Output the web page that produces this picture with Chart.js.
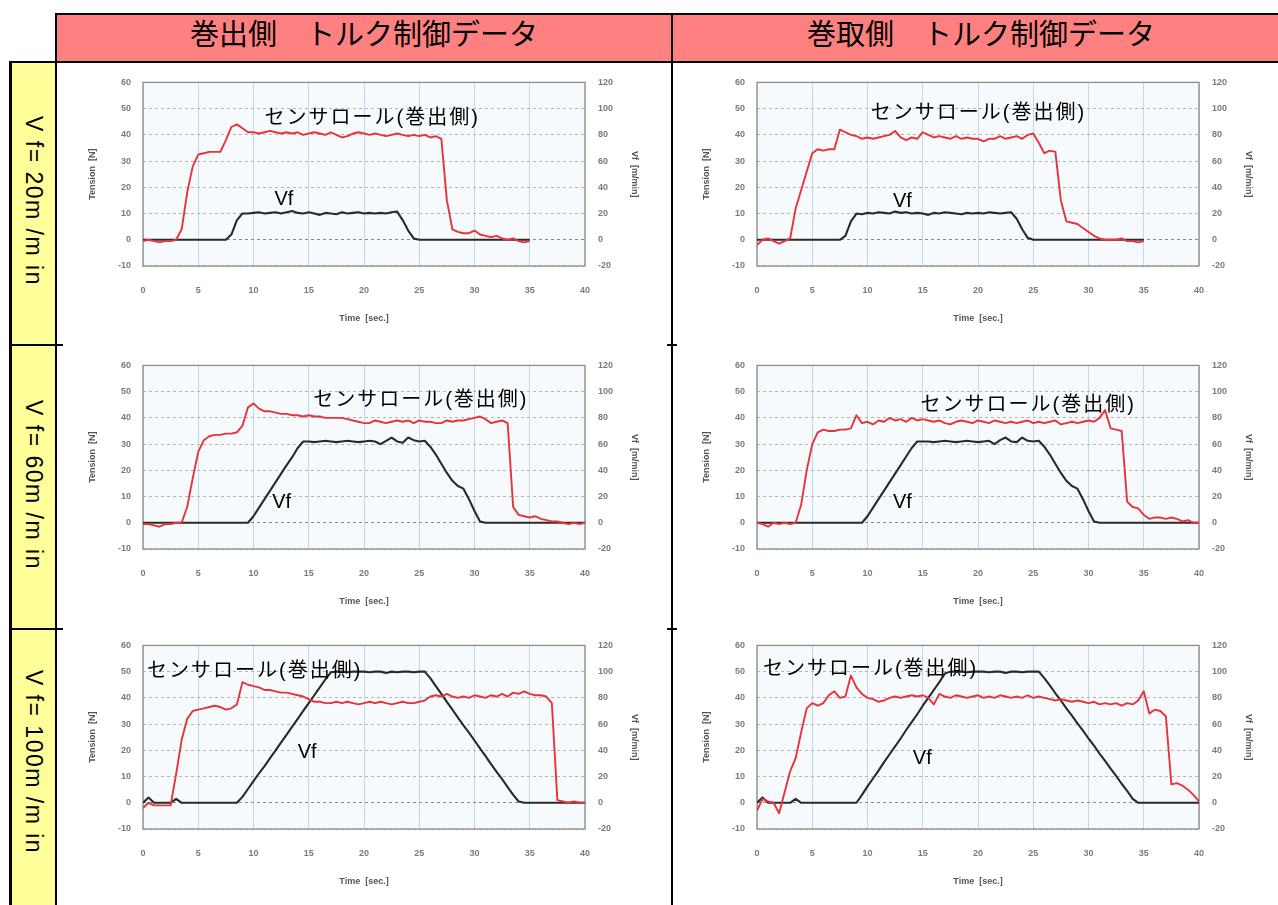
<!DOCTYPE html>
<html>
<head>
<meta charset="utf-8">
<script src="https://cdn.jsdelivr.net/npm/chart.js@4.4.1/dist/chart.umd.min.js"></script>
<style>
  html, body { margin: 0; padding: 0; background: #fff; }
  #page { position: relative; width: 1278px; height: 905px; overflow: hidden; background: #fff; }
  .blk { position: absolute; background: #000; }
  .head { position: absolute; top: 32px; transform: translate(-50%, -50%); white-space: nowrap;
          font: 29px "Noto Sans CJK JP", sans-serif; color: #000; line-height: 1; }
  .rowlab { position: absolute; left: 33px; transform: translate(-50%, -50%) rotate(90deg); white-space: nowrap;
            font: 23px "Liberation Sans", sans-serif; letter-spacing: 1.5px; color: #000; line-height: 1; }
  .note { position: absolute; transform: translateY(-50%); white-space: nowrap; color: #000; line-height: 1;
          font: 20px "Liberation Sans", "Noto Sans CJK JP", sans-serif; }
  canvas.panel { position: absolute; filter: blur(0.7px); }
</style>
</head>
<body>
<div id="page">
  <!-- header cells -->
  <div style="position:absolute;left:55px;top:13px;width:1230px;height:50px;background:#ff8080;"></div>
  <!-- speed column -->
  <div style="position:absolute;left:10px;top:62px;width:46px;height:850px;background:#ffff99;"></div>
</div>

<script>
// ---- time bases (sec.) ----
const TIME_35 = [
  0, 0.5, 1, 1.5, 2, 2.5, 3, 3.5, 4, 4.5,
  5, 5.5, 6, 6.5, 7, 7.5, 8, 8.5, 9, 9.5,
  10, 10.5, 11, 11.5, 12, 12.5, 13, 13.5, 14, 14.5,
  15, 15.5, 16, 16.5, 17, 17.5, 18, 18.5, 19, 19.5,
  20, 20.5, 21, 21.5, 22, 22.5, 23, 23.5, 24, 24.5,
  25, 25.5, 26, 26.5, 27, 27.5, 28, 28.5, 29, 29.5,
  30, 30.5, 31, 31.5, 32, 32.5, 33, 33.5, 34, 34.5,
  35
];
const TIME_40 = [
  0, 0.5, 1, 1.5, 2, 2.5, 3, 3.5, 4, 4.5,
  5, 5.5, 6, 6.5, 7, 7.5, 8, 8.5, 9, 9.5,
  10, 10.5, 11, 11.5, 12, 12.5, 13, 13.5, 14, 14.5,
  15, 15.5, 16, 16.5, 17, 17.5, 18, 18.5, 19, 19.5,
  20, 20.5, 21, 21.5, 22, 22.5, 23, 23.5, 24, 24.5,
  25, 25.5, 26, 26.5, 27, 27.5, 28, 28.5, 29, 29.5,
  30, 30.5, 31, 31.5, 32, 32.5, 33, 33.5, 34, 34.5,
  35, 35.5, 36, 36.5, 37, 37.5, 38, 38.5, 39, 39.5,
  40
];

// ---- axis ticks ----
const TIME_TICKS = [0, 5, 10, 15, 20, 25, 30, 35, 40];
const TENSION_TICKS = [-10, 0, 10, 20, 30, 40, 50, 60];
const VF_TICKS = [-20, 0, 20, 40, 60, 80, 100, 120];

// ---- sensor roll tension [N] and line speed Vf [m/min] ----
// unwind side, Vf = 20 m/min
const TENSION_UNW_20 = [
  -0.5, 0, -0.5, -1, -0.5, -0.5, 0, 4, 18, 28,
  32.5, 33, 33.5, 33.5, 33.5, 38, 43, 44, 42.5, 41,
  41, 40.5, 41, 41.5, 41, 40.5, 41, 40.5, 41, 40,
  40.5, 41, 40.5, 40, 41, 40, 39, 39.5, 40.5, 41,
  40.5, 40, 40.5, 40, 39.5, 40, 40.5, 40, 39.5, 40,
  39.5, 40, 39, 39.5, 38.5, 15, 4, 3, 2.5, 2.5,
  3.5, 2, 1.5, 1, 1.5, 0.5, 0, 0.5, -0.5, -1,
  -0.5
];
const VF_UNW_20 = [
  0, 0, 0, 0, 0, 0, 0, 0, 0, 0,
  0, 0, 0, 0, 0, 0, 4, 15, 20, 20,
  20.5, 21, 20, 20.5, 21, 20, 21, 22, 20.5, 20,
  21, 20, 19, 20.5, 20, 19.5, 21, 20, 20.5, 21,
  20, 20.5, 20, 20.5, 20, 21, 21.5, 15, 7, 1,
  0, 0, 0, 0, 0, 0, 0, 0, 0, 0,
  0, 0, 0, 0, 0, 0, 0, 0, 0, 0,
  0
];
// rewind side, Vf = 20 m/min
const TENSION_REW_20 = [
  -2, 0, 0.5, -0.5, -1.5, -0.5, 0.5, 12, 19, 26,
  33, 34.5, 34, 34.5, 34.5, 42, 41, 40, 39.5, 38.5,
  39, 38.5, 39, 39.5, 40, 41.5, 39, 38, 39, 38.5,
  41, 40, 39, 39.5, 39, 38.5, 39.5, 38.5, 39, 38.5,
  38.5, 37.5, 38.5, 38.5, 39.5, 38.5, 39, 39.5, 38.5, 40,
  40.5, 37, 33, 34, 33.5, 15, 7, 6.5, 6, 4.5,
  3, 1.5, 0.5, 0, 0, 0, 0.5, -0.5, -0.5, -1,
  -0.5
];
const VF_REW_20 = [
  0, 0, 0, 0, 0, 0, 0, 0, 0, 0,
  0, 0, 0, 0, 0, 0, 3, 14, 20, 19.5,
  20.5, 20, 21, 20.5, 20, 21.5, 20.5, 21, 20, 20.5,
  20, 19, 20.5, 20, 21, 20.5, 20, 19.5, 20.5, 20,
  20.5, 20, 21, 20.5, 20, 20.5, 21, 16, 8, 1.5,
  0, 0, 0, 0, 0, 0, 0, 0, 0, 0,
  0, 0, 0, 0, 0, 0, 0, 0, 0, 0,
  0
];
// unwind side, Vf = 60 m/min
const TENSION_UNW_60 = [
  -0.5, -0.5, -1, -1.5, -0.5, -0.5, 0, 0, 6, 17,
  27, 31.5, 33, 33.5, 33.5, 34, 34, 34.5, 37, 44,
  45.5, 43.5, 42.5, 42.5, 42, 41.5, 41.5, 41, 41, 40.5,
  41, 40.5, 40.5, 40, 40, 40, 40, 39.5, 39, 38.5,
  38, 38, 39, 38.5, 38, 38.5, 39, 38.5, 39, 38,
  39, 38.5, 38.5, 38, 38, 39, 38.5, 39, 39, 39.5,
  40, 40.5, 39.5, 38, 38.5, 39, 38, 6, 3, 2.5,
  2, 2.5, 1.5, 1, 0.5, 0.5, 0, -0.5, 0, -0.5,
  0
];
const VF_UNW_60 = [
  0, 0, 0, 0, 0, 0, 0, 0, 0, 0,
  0, 0, 0, 0, 0, 0, 0, 0, 0, 0,
  5, 11.5, 18, 24.5, 31, 37.5, 44, 50, 57, 62,
  62, 61.5, 62, 62.5, 62, 61.5, 62, 62.5, 62, 61.5,
  62, 62.5, 62, 60, 62.5, 65, 62, 61, 65, 63,
  62, 62.5, 58, 52, 45, 38, 32, 28, 26, 18,
  9, 1, 0, 0, 0, 0, 0, 0, 0, 0,
  0, 0, 0, 0, 0, 0, 0, 0, 0, 0,
  0
];
// rewind side, Vf = 60 m/min
const TENSION_REW_60 = [
  0, -0.5, -1.5, 0, -0.5, 0, -0.5, 0, 7, 20,
  30, 34.5, 35.5, 35, 35, 35.5, 35.5, 36, 41, 38,
  38.5, 37.5, 39, 38.5, 40, 39, 39.5, 38.5, 40, 39,
  39.5, 39, 38.5, 39, 38, 37.5, 38.5, 39, 38.5, 38,
  39, 38.5, 38, 39, 38.5, 38, 38.5, 38, 38.5, 39,
  38, 38.5, 38, 38.5, 39, 37.5, 38, 38.5, 38, 38.5,
  39, 38.5, 40, 43, 36, 35.5, 35, 8, 6, 5.5,
  3, 1.5, 2, 2, 1.5, 2, 1.5, 0.5, 1, 0,
  0
];
const VF_REW_60 = [
  0, 0, 0, 0, 0, 0, 0, 0, 0, 0,
  0, 0, 0, 0, 0, 0, 0, 0, 0, 0,
  5, 11.5, 18, 24.5, 31, 37.5, 44, 50.5, 57, 62,
  62, 62, 61.5, 62, 62.5, 62, 61.5, 62, 62.5, 62,
  61.5, 62, 62.5, 60, 63, 65, 62, 61.5, 65, 62.5,
  62, 62.5, 58, 52, 45, 38, 32, 28, 26, 18,
  9, 1, 0, 0, 0, 0, 0, 0, 0, 0,
  0, 0, 0, 0, 0, 0, 0, 0, 0, 0,
  0
];
// unwind side, Vf = 100 m/min
const TENSION_UNW_100 = [
  -2, 0, -1, -1, -1, -1, 11, 24, 32, 35,
  35.5, 36, 36.5, 37, 36.5, 35.5, 36, 37.5, 46, 45,
  44.5, 44, 43, 43, 42.5, 42, 42, 41.5, 41, 40.5,
  39.5, 38.5, 38.5, 38, 38, 38.5, 38, 38.5, 38, 37.5,
  38, 38.5, 38, 38.5, 38, 37.5, 38, 38.5, 38, 38,
  38.5, 39, 40.5, 41, 40.5, 41.5, 40.5, 40, 40.5, 40,
  41, 40.5, 40, 41, 40.5, 41.5, 40.5, 42, 41.5, 42.5,
  41.5, 41, 41, 40.5, 38, 1, 0.5, 0, 0.5, 0,
  0
];
const VF_UNW_100 = [
  0, 4, 0, 0, 0, 0, 3, 0, 0, 0,
  0, 0, 0, 0, 0, 0, 0, 0, 4.5, 10.5,
  16.5, 22.5, 28, 34, 40, 46, 52, 58, 64, 70,
  76, 82, 88, 94, 99.5, 100, 100, 99.5, 100, 100,
  100, 99.5, 100, 100, 99, 100, 99.5, 100, 100, 99.5,
  100, 100, 95, 89, 83, 77, 71, 65, 59, 53.5,
  47.5, 41.5, 35.5, 29.5, 23.5, 18, 12, 6, 1, 0,
  0, 0, 0, 0, 0, 0, 0, 0, 0, 0,
  0
];
// rewind side, Vf = 100 m/min
const TENSION_REW_100 = [
  -3, 1.5, 0.5, 0, -4, 4, 12, 17, 27, 36,
  38, 37, 38, 41, 42.5, 40, 40.5, 48.5, 44, 41.5,
  40, 39.5, 38.5, 39, 40, 40.5, 40, 40.5, 41, 40.5,
  41, 40, 37.5, 41.5, 40.5, 40, 41, 40.5, 40, 40.5,
  41, 40, 40.5, 40, 41, 40.5, 40, 40.5, 40, 41,
  40, 40.5, 40, 39.5, 39, 39.5, 39, 38.5, 39, 38.5,
  38, 38.5, 37.5, 38, 37.5, 38, 37, 38, 37.5, 39,
  42.5, 34, 35.5, 35, 33, 7, 7.5, 6.5, 5, 3,
  0.5
];
const VF_REW_100 = [
  0, 4, 0, 0, 0, 0, 0, 3, 0, 0,
  0, 0, 0, 0, 0, 0, 0, 0, 0, 6,
  12.5, 18.5, 24.5, 31, 37, 43, 49, 55.5, 61.5, 67.5,
  74, 80, 86, 92, 98.5, 100, 100, 100, 99.5, 100,
  100, 100, 99.5, 100, 100, 99, 100, 100, 99.5, 100,
  100, 100, 95, 89.5, 83.5, 78, 72, 66.5, 60.5, 55,
  49, 43.5, 37.5, 32, 26, 20.5, 14.5, 9, 3, 0,
  0, 0, 0, 0, 0, 0, 0, 0, 0, 0,
  0
];

const COLUMN_TITLES = ['巻出側\u3000トルク制御データ', '巻取側\u3000トルク制御データ'];
const ROW_TITLES = ['V f= 20m /m in', 'V f= 60m /m in', 'V f= 100m /m in'];
const ROLL_LABEL = 'センサロール(巻出側)';

// panel placement (canvas top-left), label anchors in data units
const COL_LEFT = [60, 674];
const ROW_TOP = [64, 347, 627];
const PANELS = [
  { col: 0, row: 0, time: TIME_35, tension: TENSION_UNW_20, vf: VF_UNW_20,
    notes: [{ text: ROLL_LABEL, x: 11.0, y: 47.4 }, { text: 'Vf', x: 11.9, y: 16 }] },
  { col: 1, row: 0, time: TIME_35, tension: TENSION_REW_20, vf: VF_REW_20,
    notes: [{ text: ROLL_LABEL, x: 10.3, y: 49.3 }, { text: 'Vf', x: 12.3, y: 15.3 }] },
  { col: 0, row: 1, time: TIME_40, tension: TENSION_UNW_60, vf: VF_UNW_60,
    notes: [{ text: ROLL_LABEL, x: 15.4, y: 47.8 }, { text: 'Vf', x: 11.7, y: 8.4 }] },
  { col: 1, row: 1, time: TIME_40, tension: TENSION_REW_60, vf: VF_REW_60,
    notes: [{ text: ROLL_LABEL, x: 14.8, y: 46.2 }, { text: 'Vf', x: 12.3, y: 8.4 }] },
  { col: 0, row: 2, time: TIME_40, tension: TENSION_UNW_100, vf: VF_UNW_100,
    notes: [{ text: ROLL_LABEL, x: 0.36, y: 51.2 }, { text: 'Vf', x: 14.0, y: 19.9 }] },
  { col: 1, row: 2, time: TIME_40, tension: TENSION_REW_100, vf: VF_REW_100,
    notes: [{ text: ROLL_LABEL, x: 0.54, y: 52.3 }, { text: 'Vf', x: 14.1, y: 17.6 }] }
];

const page = document.getElementById('page');

// plot-area background and frame
const plotFrame = {
  id: 'plotFrame',
  beforeDraw(chart) {
    const a = chart.chartArea, ctx = chart.ctx;
    ctx.save();
    ctx.fillStyle = '#f7fafc';
    ctx.fillRect(a.left, a.top, a.right - a.left, a.bottom - a.top);
    ctx.restore();
  },
  beforeDatasetsDraw(chart) {
    const a = chart.chartArea, ctx = chart.ctx;
    ctx.save();
    ctx.strokeStyle = '#8c8c8c';
    ctx.lineWidth = 1.3;
    ctx.strokeRect(a.left, a.top, a.right - a.left, a.bottom - a.top);
    ctx.restore();
  }
};

const tickFont = { family: 'Liberation Sans', size: 9, weight: 'bold' };
const titleFont = { family: 'Liberation Sans', size: 9, weight: 'bold' };
const tickColor = '#7a7a7a';

function pairs(time, values) {
  return values.map((v, i) => ({ x: time[i], y: v }));
}

function buildPanel(p) {
  const left = COL_LEFT[p.col], top = ROW_TOP[p.row];
  const cv = document.createElement('canvas');
  cv.className = 'panel';
  cv.width = 610; cv.height = 280;
  cv.style.left = left + 'px';
  cv.style.top = top + 'px';
  cv.style.width = '610px';
  cv.style.height = '280px';
  page.appendChild(cv);

  const chart = new Chart(cv, {
    type: 'line',
    data: {
      datasets: [
        { label: 'Tension', data: pairs(p.time, p.tension), yAxisID: 'y',
          borderColor: '#e8333a', borderWidth: 1.9 },
        { label: 'Vf', data: pairs(p.time, p.vf), yAxisID: 'y1',
          borderColor: '#2a2a2a', borderWidth: 2.1 }
      ]
    },
    options: {
      responsive: false,
      animation: false,
      devicePixelRatio: 1,
      layout: { padding: { top: 18, left: 0, right: 0, bottom: 0 } },
      elements: { point: { radius: 0 }, line: { tension: 0, borderJoinStyle: 'round' } },
      plugins: { legend: { display: false }, tooltip: { enabled: false } },
      scales: {
        x: {
          type: 'linear', min: 0, max: 40,
          afterFit(s) { s.height = 78; },
          afterBuildTicks(s) { s.ticks = TIME_TICKS.map(v => ({ value: v })); },
          ticks: { padding: 19, color: tickColor, font: tickFont, maxRotation: 0, autoSkip: false },
          grid: { drawTicks: false, color: 'rgba(150,190,215,0.55)', lineWidth: 1 },
          border: { display: false },
          title: { display: true, text: 'Time  [sec.]', color: '#555', font: titleFont,
                   padding: { top: 0, bottom: 20 } }
        },
        y: {
          type: 'linear', position: 'left', min: -10, max: 60,
          afterFit(s) { s.width = 83; },
          afterBuildTicks(s) { s.ticks = TENSION_TICKS.map(v => ({ value: v })); },
          ticks: { padding: 12, color: tickColor, font: tickFont },
          grid: { drawTicks: false,
                  color: c => (c.tick && c.tick.value === 0) ? '#8a8a8a' : '#b4b4b4',
                  lineWidth: 1 },
          border: { display: false, dash: [3, 3] },
          title: { display: true, text: 'Tension  [N]', color: '#555', font: titleFont,
                   padding: { top: 27, bottom: 0 } }
        },
        y1: {
          type: 'linear', position: 'right', min: -20, max: 120,
          afterFit(s) { s.width = 85; },
          afterBuildTicks(s) { s.ticks = VF_TICKS.map(v => ({ value: v })); },
          ticks: { padding: 13, color: tickColor, font: tickFont },
          grid: { display: false, drawTicks: false },
          border: { display: false },
          title: { display: true, text: 'Vf  [m/min]', color: '#555', font: titleFont,
                   padding: { top: 30, bottom: 0 } }
        }
      }
    },
    plugins: [plotFrame]
  });

  p.notes.forEach(n => {
    const d = document.createElement('div');
    d.className = 'note';
    d.textContent = n.text;
    if (n.text !== 'Vf') d.style.letterSpacing = '2px';
    d.style.left = (left + chart.scales.x.getPixelForValue(n.x)) + 'px';
    d.style.top = (top + chart.scales.y.getPixelForValue(n.y)) + 'px';
    page.appendChild(d);
  });
}

PANELS.forEach(buildPanel);

// table rules
function rule(x, y, w, h) {
  const d = document.createElement('div');
  d.className = 'blk';
  d.style.left = x + 'px'; d.style.top = y + 'px';
  d.style.width = w + 'px'; d.style.height = h + 'px';
  page.appendChild(d);
}
rule(55, 13, 1230, 2);    // header top
rule(9, 61, 1276, 2);     // header bottom / speed column top
rule(55, 13, 2, 900);     // header left / speed column right
rule(671, 13, 2, 900);    // column divider
rule(9, 61, 3, 850);      // speed column left
rule(9, 344, 54, 2);      // row divider 1
rule(9, 628, 54, 2);      // row divider 2
rule(667, 344, 10, 2);
rule(667, 628, 10, 2);

// column headings
COLUMN_TITLES.forEach((t, i) => {
  const d = document.createElement('div');
  d.className = 'head';
  d.textContent = t;
  d.style.left = (i === 0 ? 364 : 981) + 'px';
  page.appendChild(d);
});

// speed labels
const ROW_CENTER = [201, 485, 762];
ROW_TITLES.forEach((t, i) => {
  const d = document.createElement('div');
  d.className = 'rowlab';
  d.textContent = t;
  d.style.top = ROW_CENTER[i] + 'px';
  page.appendChild(d);
});
</script>
</body>
</html>
